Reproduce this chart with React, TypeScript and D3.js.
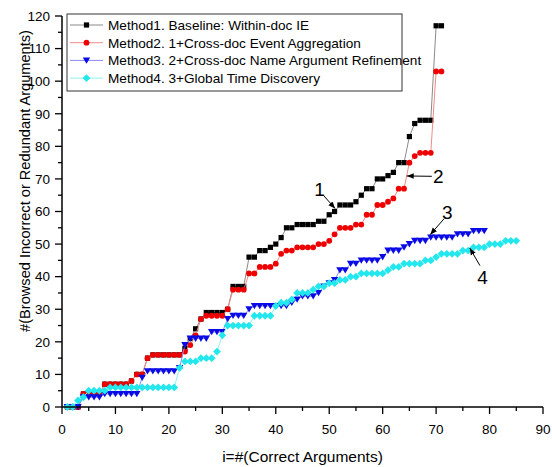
import React from 'react';
import * as d3 from 'd3';

const xTicks = [0, 10, 20, 30, 40, 50, 60, 70, 80, 90];
const yTicks = [0, 10, 20, 30, 40, 50, 60, 70, 80, 90, 100, 110, 120];

const seriesNames = [
  'Method1. Baseline: Within-doc IE',
  'Method2. 1+Cross-doc Event Aggregation',
  'Method3. 2+Cross-doc Name Argument Refinement',
  'Method4. 3+Global Time Discovery',
];

// y values for x = 1..N
const method1 = [
  0, 0, 0, 4, 4, 4, 4, 7, 7, 7, 7, 7, 8, 10, 10, 15, 16, 16, 16, 16,
  16, 16, 18, 21, 24, 27, 29, 29, 29, 29, 30, 37, 37, 37, 46, 46, 48, 48, 49, 50,
  52, 55, 55, 56, 56, 56, 56, 57, 57, 59, 60, 62, 62, 62, 63, 65, 67, 67, 70, 70,
  71, 72, 75, 75, 83, 87, 88, 88, 88, 117, 117,
];
const method2 = [
  0, 0, 0, 4, 4, 4, 4, 7, 7, 7, 7, 7, 8, 10, 10, 15, 16, 16, 16, 16,
  16, 16, 17, 19, 22, 27, 28, 28, 28, 28, 30, 36, 36, 36, 41, 41, 43, 43, 43, 44,
  47, 48, 48, 49, 49, 49, 49, 50, 50, 51, 53, 55, 55, 55, 56, 56, 59, 59, 62, 62,
  63, 64, 67, 67, 75, 77, 78, 78, 78, 103, 103,
];
const method3 = [
  0, 0, 0, 3, 3, 3, 3, 4, 4, 4, 4, 4, 4, 4, 9, 11, 11, 11, 11, 11,
  11, 12, 19, 21, 21, 21, 21, 23, 23, 23, 27, 28, 28, 28, 30, 31, 31, 31, 31, 31,
  31, 31, 32, 33, 34, 34, 34, 35, 37, 38, 39, 42, 42, 44, 44, 45, 45, 45, 45, 46,
  48, 48, 48, 49, 50, 51, 51, 51, 52, 52, 52, 52, 52, 53, 53, 53, 54, 54, 54,
];
const method4 = [
  0, 0, 2, 3, 5, 5, 5, 5, 6, 6, 6, 6, 6, 6, 6, 6, 6, 6, 6, 6,
  6, 12, 14, 14, 14, 15, 15, 15, 17, 22, 25, 25, 25, 25, 25, 28, 28, 28, 28, 31,
  32, 32, 33, 35, 35, 35, 36, 37, 37, 38, 38, 39, 39, 40, 40, 41, 41, 41, 41, 41,
  42, 43, 43, 44, 44, 44, 44, 45, 45, 46, 47, 47, 47, 47, 48, 48, 49, 49, 49, 50,
  50, 50, 51, 51, 51,
];

// annotations: label, label position, arrow start, arrow end (data coords)
const annoLabels = ['1', '2', '3', '4'];
const annoText: [number, number][] = [[48.2, 67.0], [70.4, 71.0], [72.1, 59.8], [78.7, 40.0]];
const annoFrom: [number, number][] = [[48.9, 65.0], [69.2, 70.8], [71.5, 57.8], [78.2, 43.4]];
const annoTo: [number, number][] = [[51.1, 60.9], [64.5, 70.9], [68.9, 52.9], [76.3, 48.8]];

const W = 552, H = 467;
const M = { left: 62, right: 543, top: 16, bottom: 407 };
const FONT = '"Liberation Sans", Arial, sans-serif';

const styles = [
  { color: '#000000', line: '#8a8a8a', marker: 'square' },
  { color: '#ee0000', line: '#f28a8a', marker: 'circle' },
  { color: '#0a0ae6', line: '#8a8af5', marker: 'tri' },
  { color: '#22e8ee', line: '#8ef2f5', marker: 'diamond' },
];

function Marker({ kind, x, y, color }: { kind: string; x: number; y: number; color: string }) {
  if (kind === 'square') return <rect x={x - 2.6} y={y - 2.6} width={5.2} height={5.2} fill={color} />;
  if (kind === 'circle') return <circle cx={x} cy={y} r={2.9} fill={color} />;
  if (kind === 'tri') return <path d={`M${x - 3.7},${y - 3} L${x + 3.7},${y - 3} L${x},${y + 3.3} Z`} fill={color} />;
  return <path d={`M${x},${y - 3.9} L${x + 3.9},${y} L${x},${y + 3.9} L${x - 3.9},${y} Z`} fill={color} />;
}

export default function App() {
  const x = d3.scaleLinear().domain([0, 90]).range([M.left, M.right]);
  const y = d3.scaleLinear().domain([0, 120]).range([M.bottom, M.top]);
  const data = [method1, method2, method3, method4].map((arr) => arr.map((v, i) => [i + 1, v] as [number, number]));
  const line = d3.line<[number, number]>().x((d) => x(d[0])).y((d) => y(d[1]));

  const xMinor = d3.range(5, 90, 10);
  const yMinor = d3.range(5, 120, 10);

  const legX = 67, legY = 14, legW = 335, legH = 77;
  const rowH = 17.7;

  return (
    <svg width={W} height={H} style={{ position: 'absolute', left: 0, top: 0, background: '#fff' }} fontFamily={FONT}>
      <defs>
        <marker id="ah" viewBox="0 0 10 10" refX="10" refY="5" markerWidth="7" markerHeight="7" orient="auto-start-reverse" markerUnits="userSpaceOnUse">
          <path d="M0,1 L10,5 L0,9 Z" fill="#000" />
        </marker>
      </defs>
      <rect width={W} height={H} fill="#fff" />
      {/* series */}
      {data.map((pts, si) => (
        <g key={si}>
          <path d={line(pts) || ''} fill="none" stroke={styles[si].line} strokeWidth={1} />
          {pts.map((p, j) => (
            <Marker key={j} kind={styles[si].marker} x={x(p[0])} y={y(p[1])} color={styles[si].color} />
          ))}
        </g>
      ))}
      {/* axes */}
      <line x1={M.left} x2={M.right} y1={M.bottom} y2={M.bottom} stroke="#000" strokeWidth={1.5} />
      <line x1={M.left} x2={M.left} y1={M.bottom} y2={M.top} stroke="#000" strokeWidth={1.5} />
      {xTicks.map((t) => (
        <g key={'xt' + t}>
          <line x1={x(t)} x2={x(t)} y1={M.bottom} y2={M.bottom + 7} stroke="#000" strokeWidth={1.3} />
          <text x={x(t)} y={434} fontSize={13.5} textAnchor="middle" fill="#000">{t}</text>
        </g>
      ))}
      {xMinor.map((t) => (
        <line key={'xm' + t} x1={x(t)} x2={x(t)} y1={M.bottom} y2={M.bottom + 4} stroke="#000" strokeWidth={1.3} />
      ))}
      {yTicks.map((t) => (
        <g key={'yt' + t}>
          <line x1={M.left - 7} x2={M.left} y1={y(t)} y2={y(t)} stroke="#000" strokeWidth={1.3} />
          <text x={M.left - 12} y={y(t) + 4.8} fontSize={13.5} textAnchor="end" fill="#000">{t}</text>
        </g>
      ))}
      {yMinor.map((t) => (
        <line key={'ym' + t} x1={M.left - 4} x2={M.left} y1={y(t)} y2={y(t)} stroke="#000" strokeWidth={1.3} />
      ))}
      <text x={(M.left + M.right) / 2} y={462} fontSize={15.5} textAnchor="middle" fill="#000">i=#(Correct Arguments)</text>
      <text transform={`translate(30,181) rotate(-90)`} fontSize={14.6} textAnchor="middle" fill="#000">
        #(Browsed Incorrect or Redundant Arguments)
      </text>
      {/* legend */}
      <rect x={legX} y={legY} width={legW} height={legH} fill="none" stroke="#333" strokeWidth={1} />
      {seriesNames.map((n, i) => {
        const cy = legY + 11 + i * rowH;
        return (
          <g key={'lg' + i}>
            <line x1={70} x2={103} y1={cy} y2={cy} stroke={styles[i].line} strokeWidth={1} />
            <Marker kind={styles[i].marker} x={86.5} y={cy} color={styles[i].color} />
            <text x={108} y={cy + 4.8} fontSize={13.6} fill="#000">{n}</text>
          </g>
        );
      })}
      {/* annotations */}
      {annoLabels.map((l, i) => (
        <g key={'an' + i}>
          <line x1={x(annoFrom[i][0])} y1={y(annoFrom[i][1])} x2={x(annoTo[i][0])} y2={y(annoTo[i][1])} stroke="#000" strokeWidth={1} markerEnd="url(#ah)" />
          <text x={x(annoText[i][0])} y={y(annoText[i][1]) + 7} fontSize={19} textAnchor="middle" fill="#000">{l}</text>
        </g>
      ))}
    </svg>
  );
}
